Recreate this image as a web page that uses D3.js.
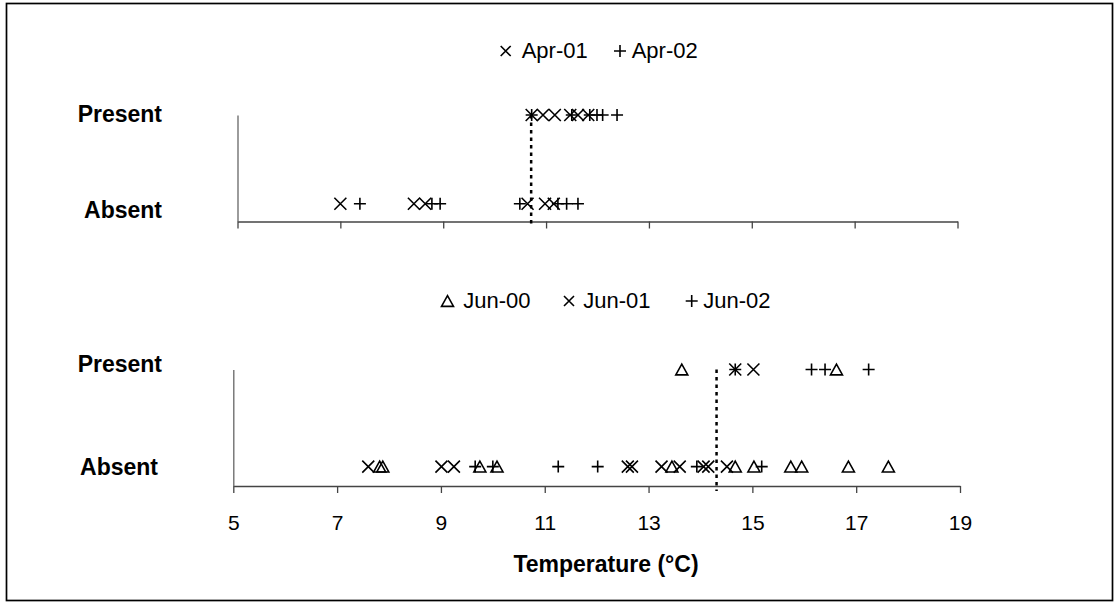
<!DOCTYPE html>
<html>
<head>
<meta charset="utf-8">
<script src="https://cdn.jsdelivr.net/npm/d3@7"></script>
<style>
  body { margin: 0; background: #fff; }
  svg { display: block; font-family: Arial, "Liberation Sans", sans-serif; }
</style>
</head>
<body>
<div id="chart"></div>
<script>
// values (temperature in °C); row 1.2 = Present, 0.2 = Absent
const rows = { Present: 1.2, Absent: 0.2 };
const ticks = [5, 7, 9, 11, 13, 15, 17, 19];

const apr01Present = [10.72, 10.94, 11.17, 11.47, 11.62, 11.82];
const apr01Absent  = [7.0, 8.43, 8.65, 10.64, 10.98, 11.15];
const apr02Present = [10.72, 11.50, 11.85, 11.99, 12.10, 12.38];
const apr02Absent  = [7.38, 8.78, 8.94, 10.49, 11.23, 11.40, 11.62];

const jun00Present = [13.64, 16.62];
const jun00Absent  = [7.82, 7.88, 9.75, 10.08, 13.45, 14.67, 15.03, 15.74, 15.95, 16.85, 17.62];
const jun01Present = [14.67, 15.02];
const jun01Absent  = [7.60, 9.01, 9.25, 12.60, 12.68, 13.25, 13.60, 14.06, 14.15, 14.51];
const jun02Present = [14.67, 16.14, 16.40, 17.24];
const jun02Absent  = [9.66, 10.0, 11.26, 12.02, 13.93, 15.18];

const aprThreshold = 10.71;
const junThreshold = 14.31;

const width = 1114, height = 602;

const svg = d3.select("#chart").append("svg")
  .attr("width", width)
  .attr("height", height);

// outer frame
svg.append("rect")
  .attr("x", 6.5).attr("y", 3.5)
  .attr("width", 1106).attr("height", 597)
  .attr("fill", "none")
  .attr("stroke", "#000")
  .attr("stroke-width", 1.7);

// marker drawing helpers
function marker(g, type, x, y, s) {
  const h = s / 2;
  let d;
  if (type === "x") {
    d = `M${x - h},${y - h}L${x + h},${y + h}M${x - h},${y + h}L${x + h},${y - h}`;
  } else if (type === "plus") {
    d = `M${x - h},${y}L${x + h},${y}M${x},${y - h}L${x},${y + h}`;
  } else {
    d = `M${x - h},${y + h * 0.9}L${x + h},${y + h * 0.9}L${x},${y - h * 0.9}Z`;
  }
  g.append("path")
    .attr("d", d)
    .attr("stroke", "#000").attr("stroke-width", 1.6).attr("fill", "none");
}

function panel(opt) {
  const x = d3.scaleLinear().domain([5, 19]).range([opt.left, opt.right]);
  const y = d3.scaleLinear().domain([0, 1.2]).range([opt.bottom, opt.top]);
  const g = svg.append("g");

  // x axis
  const xAxis = d3.axisBottom(x)
    .tickValues(ticks)
    .tickSize(7)
    .tickSizeOuter(0)
    .tickPadding(22)
    .tickFormat(opt.labels ? d3.format("d") : () => "");
  const ax = g.append("g")
    .attr("transform", `translate(0,${opt.bottom})`)
    .call(xAxis);
  ax.select(".domain").attr("stroke", "#444").attr("stroke-width", 1.3);
  ax.selectAll(".tick line").attr("stroke", "#444").attr("stroke-width", 1.3);
  ax.selectAll(".tick text")
    .attr("font-size", 21)
    .attr("font-family", "Arial, 'Liberation Sans', sans-serif")
    .attr("fill", "#000");

  // y axis (line only)
  const ay = g.append("g")
    .attr("transform", `translate(${opt.left},0)`)
    .call(d3.axisLeft(y).tickValues([]).tickSizeOuter(0));
  ay.select(".domain").attr("stroke", "#666").attr("stroke-width", 1.3);

  // row labels
  opt.rowLabels.forEach(r => {
    g.append("text")
      .attr("x", r.x)
      .attr("y", r.y + 8)
      .attr("text-anchor", "end")
      .attr("font-size", 23)
      .attr("font-weight", "bold")
      .text(r.name);
  });

  // threshold line
  g.append("line")
    .attr("x1", x(opt.threshold)).attr("x2", x(opt.threshold))
    .attr("y1", y(rows.Present)).attr("y2", opt.bottom + 5)
    .attr("stroke", "#000")
    .attr("stroke-width", 2.5)
    .attr("stroke-dasharray", "3.5,4");

  // points
  opt.series.forEach(s => {
    s.present.forEach(v => marker(g, s.type, x(v), y(rows.Present), 12));
    s.absent.forEach(v => marker(g, s.type, x(v), y(rows.Absent), 12));
  });

  // legend
  opt.legend.forEach(l => {
    marker(g, l.type, l.mx, opt.legendY - 7, l.type === "x" ? 10 : 12);
    g.append("text")
      .attr("x", l.tx)
      .attr("y", opt.legendY)
      .attr("font-size", 22)
      .text(l.label);
  });
  return { x, y };
}

panel({
  left: 237.5, right: 957.5, top: 115, bottom: 221.5,
  labels: false,
  threshold: aprThreshold,
  rowLabels: [
    { name: "Present", x: 162, y: 114 },
    { name: "Absent", x: 162, y: 210 }
  ],
  series: [
    { type: "x", present: apr01Present, absent: apr01Absent },
    { type: "plus", present: apr02Present, absent: apr02Absent }
  ],
  legendY: 58,
  legend: [
    { type: "x", mx: 505.7, tx: 521.7, label: "Apr-01" },
    { type: "plus", mx: 620, tx: 631.7, label: "Apr-02" }
  ]
});

panel({
  left: 233.3, right: 960, top: 369.5, bottom: 486,
  labels: true,
  threshold: junThreshold,
  rowLabels: [
    { name: "Present", x: 162, y: 364 },
    { name: "Absent", x: 158, y: 467 }
  ],
  series: [
    { type: "tri", present: jun00Present, absent: jun00Absent },
    { type: "x", present: jun01Present, absent: jun01Absent },
    { type: "plus", present: jun02Present, absent: jun02Absent }
  ],
  legendY: 308,
  legend: [
    { type: "tri", mx: 447.5, tx: 463.3, label: "Jun-00" },
    { type: "x", mx: 569, tx: 583.3, label: "Jun-01" },
    { type: "plus", mx: 691.7, tx: 703.3, label: "Jun-02" }
  ]
});

// axis title
svg.append("text")
  .attr("x", 606)
  .attr("y", 572)
  .attr("text-anchor", "middle")
  .attr("font-size", 23)
  .attr("font-weight", "bold")
  .text("Temperature (°C)");
</script>
</body>
</html>
